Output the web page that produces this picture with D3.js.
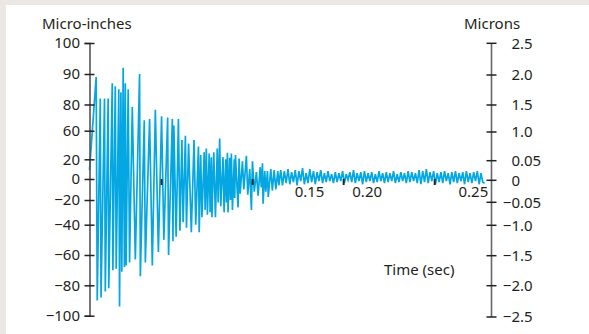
<!DOCTYPE html>
<html>
<head>
<meta charset="utf-8">
<script src="https://cdn.jsdelivr.net/npm/d3@7"></script>
<style>
  html, body { margin: 0; padding: 0; background: #ebe7e5; }
  svg { display: block; }
  text { font-family: "Noto Sans", "Open Sans", sans-serif; font-size: 15px; fill: #231f20; }
</style>
</head>
<body>
<div id="chart"></div>
<script>
// left axis: micro-inches (tick spacing is uneven in the original)
const microTicks = [100, 90, 80, 60, 20, 0, -20, -40, -60, -80, -100];
// right axis: microns, labels as printed
const micronTicks = ["2.5", "2.0", "1.5", "1.0", "0.05", "0", "−0.05", "−1.0", "−1.5", "−2.0", "−2.5"];
// time axis: small marks and the printed labels
const timeMarks = [0.0475, 0.1075, 0.1675, 0.2275];
const timeLabels = ["0.15", "0.20", "0.25"];
const timeLabelAt = [0.145, 0.183, 0.253];

// decaying part: peak times (ms) and displacement (micro-inches)
const decayMs = [0, 4.4, 5.1, 7.1, 7.6, 9.9, 10.4, 12.3, 12.7, 15.0, 15.4, 17.0, 17.6, 19.3, 19.8,
  20.7, 21.3, 22.2, 23.0, 23.6, 24.1, 25.5, 26.4, 28.2, 30.2, 33.0, 33.5, 36.1, 36.8, 39.6, 41.4,
  43.4, 45.4, 47.5, 49.0, 51.5, 52.1, 54.6, 55.0, 55.6, 57.1, 58.6, 59.6, 60.9, 61.7, 63.2, 63.9,
  65.3, 67.1, 68.9, 70.0, 71.8, 72.3, 73.3, 74.1, 75.6, 76.2, 77.0, 77.7, 78.9, 79.5, 80.3, 80.7,
  81.9, 83.0, 84.2, 84.8, 85.8, 86.5, 88.0, 88.7, 89.8, 90.3, 90.9, 91.3, 92.4, 92.9, 93.5, 94.2,
  95.4, 95.7, 96.2, 97.9, 98.6, 99.3, 100.8, 101.7, 103.4, 104.3, 105.6, 106.7, 107.4, 108.6,
  110.0, 111.1, 112.5, 113.2, 114.0, 114.4, 115.5, 116.2, 117.3, 117.8, 119.5, 120.5, 121.7,
  122.8, 124.1, 124.8];
const decayMicro = [9, 89, -90, 82, -88, 82, -84, 82, -82, 87, -70, 86, -69, 85, -94, 84, -71,
  92, -68, 87, -67, 85, -65, 78, -63, 90, -74, 68, -65, 69, -67, 76, -58, 71, -50, 70, -60, 69,
  -51, 64, -48, 69, -44, 47, -38, 53, -42, 42, -45, 47, -40, 38, -45, 26, -34, 30, -28, 35, -32,
  28, -30, 23, -34, 30, -34, 35, -22, 49, -25, 23, -30, 20, -22, 29, -30, 22, -20, 28, -28, 20,
  -18, 26, -26, 21, -14, 18, -10, 25, -15, 10, -28, 18, -12, 7, -16, 12, -8, 16, -23, 8, -12, 8,
  -17, 10, -11, 9, -10, 8, -6];

// settled tail, one reading every 1.2 ms from 126 ms
const tailStartMs = 126;
const tailStepMs = 1.2;
const tailMicro = [
  9, -6, 8, -4, 10, -5, 7, -3, 9, -6, 8, -2, 11, -5, 6, -4, 10, -3, 8, -5,
  7, -2, 9, -4, 6, -3, 8, -2, 5, -4, 7, -3, 6, -2, 8, -4, 5, -1, 7, -3,
  9, -4, 6, -2, 7, -5, 8, -3, 6, -2, 7, -4, 5, -3, 8, -2, 6, -4, 7, -3,
  6, -2, 8, -4, 5, -3, 7, -2, 6, -4, 8, -3, 7, -2, 6, -4, 9, -5, 8, -3,
  10, -4, 7, -2, 8, -5, 6, -3, 7, -4, 8, -2, 6, -5, 7, -3, 8, -4, 6, -2,
  7, -5, 8, -3, 6, -4, 7, -2, 8, -5, 6, -3, -4];

const width = 589;
const height = 334;
const leftX = 89.5;
const rightX = 491.5;

const signal = decayMs.map((ms, i) => ({ t: ms / 1000, v: decayMicro[i] }))
  .concat(tailMicro.map((v, i) => ({ t: (tailStartMs + i * tailStepMs) / 1000, v: v })));

const svg = d3.select('#chart').append('svg')
  .attr('width', width)
  .attr('height', height);

svg.append('rect')
  .attr('x', 6).attr('y', 5)
  .attr('width', width - 6).attr('height', height - 5)
  .attr('fill', '#fff');

const x = d3.scaleLinear().domain([0, 0.26]).range([leftX, 484]);
// piecewise scales, the printed axes are not evenly spaced
const y = d3.scaleLinear().domain(microTicks)
  .range([43, 74, 104.5, 130.7, 159.3, 179, 200, 224.7, 255, 285.3, 315.7]);
const yrPos = [43.3, 75, 105, 132, 160.7, 180.3, 202.3, 225.3, 255.7, 285.7, 317];

// signal
svg.append('path')
  .datum(signal)
  .attr('fill', 'none')
  .attr('stroke', '#05a7e3')
  .attr('stroke-width', 1.7)
  .attr('d', d3.line().x(d => x(d.t)).y(d => y(d.v)));

// left axis
const left = svg.append('g')
  .attr('transform', `translate(${leftX},0)`)
  .call(d3.axisLeft(y).tickValues(microTicks).tickSizeOuter(0).tickSize(5).tickPadding(4.5)
    .tickFormat(d => d < 0 ? '−' + Math.abs(d) : d));
left.attr('font-family', null).attr('font-size', null);
left.select('.domain').attr('stroke', '#555').attr('stroke-width', 1.6);
left.selectAll('.tick line').attr('x1', -5).attr('x2', 5).attr('stroke', '#222').attr('stroke-width', 1.5);
left.selectAll('.tick text').attr('fill', '#231f20');

// right axis
const right = svg.append('g').attr('transform', `translate(${rightX},0)`);
right.append('line')
  .attr('y1', yrPos[0]).attr('y2', yrPos[yrPos.length - 1])
  .attr('stroke', '#666').attr('stroke-width', 1.6);
const rt = right.selectAll('g.rt').data(micronTicks).join('g')
  .attr('class', 'rt')
  .attr('transform', (d, i) => `translate(0,${yrPos[i]})`);
rt.append('line').attr('x1', -5).attr('x2', 5).attr('stroke', '#222').attr('stroke-width', 1.5);
// decimal-aligned labels
rt.append('text')
  .attr('x', 28.5).attr('dy', '0.35em')
  .attr('text-anchor', 'end')
  .text(d => d.split('.')[0]);
rt.append('text')
  .attr('x', 28.5).attr('dy', '0.35em')
  .attr('text-anchor', 'start')
  .text(d => d.includes('.') ? '.' + d.split('.')[1] : '');

// time axis marks, drawn over the signal
svg.append('g').selectAll('line').data(timeMarks).join('line')
  .attr('x1', d => x(d)).attr('x2', d => x(d))
  .attr('y1', y(0)).attr('y2', y(0) + 6)
  .attr('stroke', '#1b2a33').attr('stroke-width', 2);

svg.append('g').selectAll('text').data(timeLabels).join('text')
  .attr('x', (d, i) => x(timeLabelAt[i]))
  .attr('y', y(0) + 18)
  .attr('text-anchor', 'middle')
  .text(d => d);

// axis titles
svg.append('text').attr('x', 42).attr('y', 29).text('Micro-inches');
svg.append('text').attr('x', 464).attr('y', 29).text('Microns');
svg.append('text').attr('x', 384).attr('y', 275).attr('font-size', 14.5).text('Time (sec)');
</script>
</body>
</html>
